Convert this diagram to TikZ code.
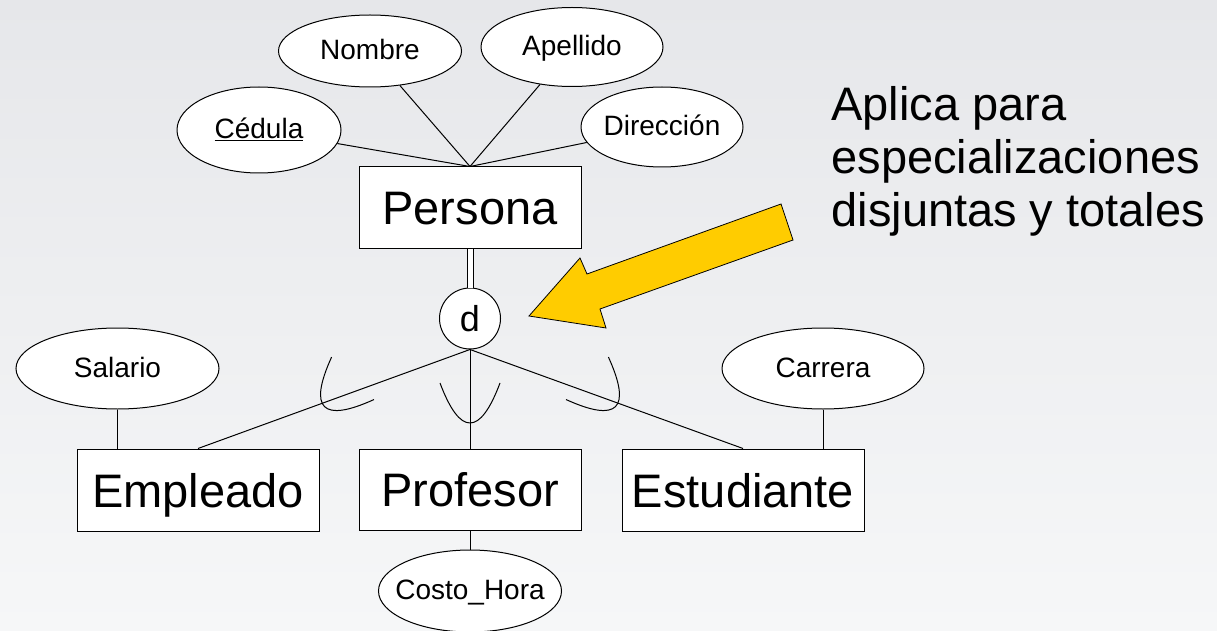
\documentclass[tikz,border=0pt]{standalone}
\usepackage{fontspec}
\setmainfont{Liberation Sans}
\usetikzlibrary{shapes.geometric}
\definecolor{flecha}{RGB}{255,204,0}
\definecolor{fondoarriba}{RGB}{230,231,234}
\definecolor{fondoabajo}{RGB}{246,247,248}

\tikzset{
  entidad/.style={draw,fill=white,inner sep=0pt,minimum width=222pt,minimum height=81pt,text height=34pt,text depth=0pt,font=\fontsize{47}{56}\selectfont},
  entidadancha/.style={entidad,minimum width=242pt,minimum height=82pt},
  atributo/.style={draw,fill=white,ellipse,inner sep=0pt,text height=20pt,text depth=3pt,font=\fontsize{28}{34}\selectfont},
  subconj/.style={line width=1pt}
}

\begin{document}
\begin{tikzpicture}[x=1pt,y=-1pt,line width=1pt]
\shade[top color=fondoarriba,bottom color=fondoabajo] (0,0) rectangle (1217,631);
\useasboundingbox (0,0) rectangle (1217,631);
%\draw[step=50,gray,very thin] (0,0) grid (1217,631);

% entidades
\node[entidad] (persona) at (470,207.5) {Persona};
\node[entidadancha] (empleado) at (198,490) {Empleado};
\node[entidad] (profesor) at (470,489.5) {Profesor};
\node[entidadancha] (estudiante) at (743,490) {Estudiante};

% atributos
\node[atributo,minimum width=164pt,minimum height=86pt] (cedula) at (259,130) {\underline{Cédula}};
\node[atributo,minimum width=183pt,minimum height=72pt] (nombre) at (370,51) {Nombre};
\node[atributo,minimum width=182pt,minimum height=79pt] (apellido) at (572,47) {Apellido};
\node[atributo,minimum width=162pt,minimum height=80pt,inner xsep=-2pt] (direccion) at (662,127) {Dirección};
\node[atributo,minimum width=203pt,minimum height=81pt] (salario) at (117.5,368.5) {Salario};
\node[atributo,minimum width=202pt,minimum height=81pt] (carrera) at (823,368.5) {Carrera};
\node[atributo,minimum width=182pt,minimum height=82pt,inner xsep=-10pt] (costo) at (470,591) {Costo\_Hora};

\node[circle,draw,fill=white,minimum size=61pt,inner sep=0pt,font=\fontsize{36}{40}\selectfont] (d) at (470,318.5) {d};

\draw (cedula) -- (persona.north);
\draw (nombre) -- (persona.north);
\draw (apellido) -- (persona.north);
\draw (direccion) -- (persona.north);
\draw (salario.south) -- (salario.south |- empleado.north);
\draw (carrera.south) -- (carrera.south |- estudiante.north);
\draw (profesor.south) -- (costo.north);

\draw[double=white,double distance=5pt] (persona.south) -- (d.north);
\draw (d.south) -- (empleado.north);
\draw (d.south) -- (profesor.north);
\draw (d.south) -- (estudiante.north);

% simbolos de subconjunto
\foreach \x/\y/\r in {324.5/406.6/-45, 470/423/0, 615.5/406.6/45}
  \draw[subconj,shift={(\x,\y)},rotate=\r] (-30,-40) .. controls (-10,13.3) and (10,13.3) .. (30,-40);

% flecha y nota
\draw[fill=flecha,line width=0.8pt] (529,316) -- (580,258) -- (587,274) -- (781,204) -- (793,240) -- (600,309) -- (606,328) -- cycle;
\node[anchor=north west,inner sep=0pt,align=left,font=\fontsize{47}{53}\selectfont] (nota) at (831,86) {Aplica para\\especializaciones\\disjuntas y totales};

\end{tikzpicture}
\end{document}
